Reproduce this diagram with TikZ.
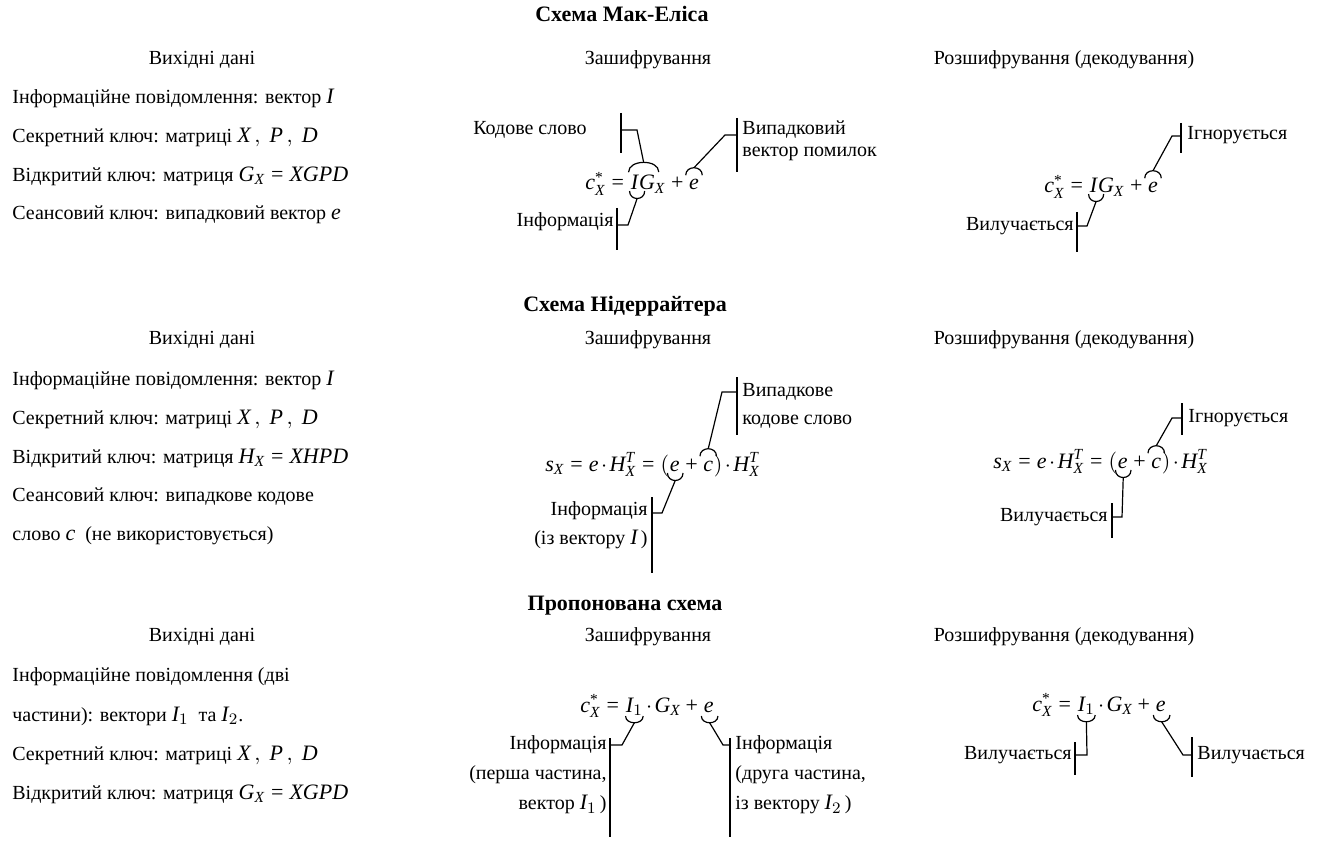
\documentclass[tikz,border=0pt]{standalone}
\usepackage{amsmath}
\usepackage{fontspec}
\setmainfont{Liberation Serif}
\usetikzlibrary{calc}
\newcommand{\vi}[1]{\text{\itshape #1}}
\newcommand{\myeq}{\mathrel{\text{=}}}
\newcommand{\mypl}{\mathbin{\text{+}}}
\newcommand{\myst}{^{\text{*}}}
\newcommand{\mydot}{\mskip2mu{\cdot}\mskip2mu}
\newcommand{\M}[1]{{\fontsize{11pt}{13pt}\selectfont$#1$}}
\begin{document}
\begin{tikzpicture}[x=0.5pt,y=-0.5pt,
  every node/.style={inner sep=0pt, font=\fontsize{10pt}{12pt}\selectfont},
  ttl/.style={font=\fontsize{11pt}{13pt}\selectfont\bfseries},
  ln/.style={anchor=west},
  fm/.style={anchor=base west, font=\fontsize{11pt}{13pt}\selectfont},
  cn/.style={line width=0.6pt},
  barln/.style={line width=0.8pt}]
\useasboundingbox (0,0) rectangle (1325,844);

% ================= Section 1 =================
\node[ttl] (t1) at (622,14) {Схема Мак-Еліса};
\node (h1a) at (202,60) {Вихідні дані};
\node (h1b) at (648,60) {Зашифрування};
\node (h1c) at (1064,60) {Розшифрування (декодування)};
\node[ln] (l1a) at (12,98) {Інформаційне повідомлення: вектор \M{\vi{I}}};
\node[ln] (l1b) at (12,137) {Секретний ключ: матриці \M{\vi{X}\,,\ \vi{P}\,,\ \vi{D}}};
\node[ln] (l1c) at (12,176) {Відкритий ключ: матриця \M{\vi{G}_{\vi{X}} \myeq \vi{XGPD}}};
\node[ln] (l1d) at (12,215) {Сеансовий ключ: випадковий вектор \M{\vi{e}}};

% encryption formula
\node[fm] (ma1) at (585,190) {$\vi{c}\myst_{\vi{X}}\myeq{}$};
\node[fm] (ma2) at (ma1.base east) {$\vi{I}$};
\node[fm] (ma3) at (ma2.base east) {$\vi{G}_{\vi{X}}$};
\node[fm] (ma4) at (ma3.base east) {${}\mypl{}$};
\node[fm] (ma5) at (ma4.base east) {$\vi{e}$};
% arc over IG
\coordinate (ma-p1) at ($(ma2.north west)+(-2,-3)$);
\coordinate (ma-p2) at ($(ma3.north east)+(-7,-3)$);
\draw[cn] (ma-p1) .. controls +(0,-13) and +(0,-13) .. (ma-p2);
\coordinate (ma-q1) at ($(ma-p1)!0.5!(ma-p2)+(0,-9.75)$);
\coordinate (ma-k1) at (637,130);
\coordinate (ma-b1) at (621,130);
\draw[cn] (ma-q1) -- (ma-k1) -- (ma-b1);
\draw[barln] ($(ma-b1)+(0,-17)$) -- ($(ma-b1)+(0,23)$);
\node[anchor=east] (ma-l1) at (587,130) {Кодове слово};
% arc over e
\coordinate (ma-p3) at ($(ma5.north west)+(-3,-4)$);
\coordinate (ma-p4) at ($(ma5.north east)+(3,-4)$);
\draw[cn] (ma-p3) .. controls +(0,-10) and +(0,-10) .. (ma-p4);
\coordinate (ma-q2) at ($(ma-p3)!0.5!(ma-p4)+(0,-7.5)$);
\coordinate (ma-k2) at (725,135);
\coordinate (ma-b2) at (737,135);
\draw[cn] (ma-q2) -- (ma-k2) -- (ma-b2);
\draw[barln] ($(ma-b2)+(0,-17)$) -- ($(ma-b2)+(0,37)$);
\node[anchor=west, align=left, font=\fontsize{10pt}{11pt}\selectfont] (ma-l2) at (742,141) {Випадковий\\вектор помилок};
% arc under I
\coordinate (ma-p5) at ($(ma2.base west)+(-1,1)$);
\coordinate (ma-p6) at ($(ma2.base east)+(6,1)$);
\draw[cn] (ma-p5) .. controls +(0,10) and +(0,10) .. (ma-p6);
\coordinate (ma-q3) at ($(ma-p5)!0.5!(ma-p6)+(0,7.5)$);
\coordinate (ma-k3) at (628,225);
\coordinate (ma-b3) at (617,225);
\draw[cn] (ma-q3) -- (ma-k3) -- (ma-b3);
\draw[barln] ($(ma-b3)+(0,-17)$) -- ($(ma-b3)+(0,25)$);
\node[anchor=east] (ma-l3) at (614,222) {Інформація};

% decryption formula
\node[fm] (mb1) at (1044,193) {$\vi{c}\myst_{\vi{X}}\myeq{}$};
\node[fm] (mb2) at (mb1.base east) {$\vi{I}$};
\node[fm] (mb3) at (mb2.base east) {$\vi{G}_{\vi{X}}$};
\node[fm] (mb4) at (mb3.base east) {${}\mypl{}$};
\node[fm] (mb5) at (mb4.base east) {$\vi{e}$};
\coordinate (mb-p3) at ($(mb5.north west)+(-3,-4)$);
\coordinate (mb-p4) at ($(mb5.north east)+(3,-4)$);
\draw[cn] (mb-p3) .. controls +(0,-10) and +(0,-10) .. (mb-p4);
\coordinate (mb-q2) at ($(mb-p3)!0.5!(mb-p4)+(0,-7.5)$);
\coordinate (mb-k2) at (1172,136);
\coordinate (mb-b2) at (1181,136);
\draw[cn] (mb-q2) -- (mb-k2) -- (mb-b2);
\draw[barln] ($(mb-b2)+(0,-13)$) -- ($(mb-b2)+(0,17)$);
\node[anchor=west] (mb-l2) at (1187,135) {Ігнорується};
\coordinate (mb-p5) at ($(mb2.base west)+(-1,1)$);
\coordinate (mb-p6) at ($(mb2.base east)+(6,1)$);
\draw[cn] (mb-p5) .. controls +(0,10) and +(0,10) .. (mb-p6);
\coordinate (mb-q3) at ($(mb-p5)!0.5!(mb-p6)+(0,7.5)$);
\coordinate (mb-k3) at (1087,226);
\coordinate (mb-b3) at (1077,226);
\draw[cn] (mb-q3) -- (mb-k3) -- (mb-b3);
\draw[barln] ($(mb-b3)+(0,-14)$) -- ($(mb-b3)+(0,26)$);
\node[anchor=east] (mb-l3) at (1074,226) {Вилучається};

% ================= Section 2 =================
\node[ttl] (t2) at (625,306) {Схема Нідеррайтера};
\node (h2a) at (202,340) {Вихідні дані};
\node (h2b) at (648,340) {Зашифрування};
\node (h2c) at (1064,340) {Розшифрування (декодування)};
\node[ln] (l2a) at (12,380) {Інформаційне повідомлення: вектор \M{\vi{I}}};
\node[ln] (l2b) at (12,419) {Секретний ключ: матриці \M{\vi{X}\,,\ \vi{P}\,,\ \vi{D}}};
\node[ln] (l2c) at (12,458) {Відкритий ключ: матриця \M{\vi{H}_{\vi{X}} \myeq \vi{XHPD}}};
\node[ln] (l2d) at (12,497) {Сеансовий ключ: випадкове кодове};
\node[ln] (l2e) at (12,536) {слово \M{\vi{c}} \ (не використовується)};

\node[fm] (na1) at (545,471) {$\vi{s}_{\vi{X}}\myeq\vi{e}\mydot\vi{H}^{\vi{T}}_{\vi{X}}\myeq($};
\node[fm] (na2) at (na1.base east) {$\vi{e}$};
\node[fm] (na3) at (na2.base east) {${}\mypl{}$};
\node[fm] (na4) at (na3.base east) {$\vi{c}$};
\node[fm] (na5) at (na4.base east) {$)\mydot\vi{H}^{\vi{T}}_{\vi{X}}$};
\coordinate (na-p1) at ($(na4.north west)+(-3,-4)$);
\coordinate (na-p2) at ($(na4.north east)+(3,-4)$);
\draw[cn] (na-p1) .. controls +(0,-10) and +(0,-10) .. (na-p2);
\coordinate (na-q1) at ($(na-p1)!0.5!(na-p2)+(0,-7.5)$);
\coordinate (na-k1) at (722,392);
\coordinate (na-b1) at (737,392);
\draw[cn] (na-q1) -- (na-k1) -- (na-b1);
\draw[barln] ($(na-b1)+(0,-15)$) -- ($(na-b1)+(0,43)$);
\node[anchor=west, align=left, font=\fontsize{10pt}{14pt}\selectfont] (na-l1) at (742,406) {Випадкове\\кодове слово};
\coordinate (na-p3) at ($(na2.base west)+(-2,2)$);
\coordinate (na-p4) at ($(na2.base east)+(3,2)$);
\draw[cn] (na-p3) .. controls +(0,10) and +(0,10) .. (na-p4);
\coordinate (na-q2) at ($(na-p3)!0.5!(na-p4)+(0,7.5)$);
\coordinate (na-k2) at (662,513);
\coordinate (na-b2) at (652,513);
\draw[cn] (na-q2) -- (na-k2) -- (na-b2);
\draw[barln] ($(na-b2)+(0,-16)$) -- ($(na-b2)+(0,60)$);
\node[anchor=east, align=right, font=\fontsize{10pt}{14.5pt}\selectfont] (na-l2) at (648,525) {Інформація\\(із вектору \M{\vi{I}}\,)};

\node[fm] (nb1) at (993,468) {$\vi{s}_{\vi{X}}\myeq\vi{e}\mydot\vi{H}^{\vi{T}}_{\vi{X}}\myeq($};
\node[fm] (nb2) at (nb1.base east) {$\vi{e}$};
\node[fm] (nb3) at (nb2.base east) {${}\mypl{}$};
\node[fm] (nb4) at (nb3.base east) {$\vi{c}$};
\node[fm] (nb5) at (nb4.base east) {$)\mydot\vi{H}^{\vi{T}}_{\vi{X}}$};
\coordinate (nb-p1) at ($(nb4.north west)+(-3,-4)$);
\coordinate (nb-p2) at ($(nb4.north east)+(3,-4)$);
\draw[cn] (nb-p1) .. controls +(0,-10) and +(0,-10) .. (nb-p2);
\coordinate (nb-q1) at ($(nb-p1)!0.5!(nb-p2)+(0,-7.5)$);
\coordinate (nb-k1) at (1172,418);
\coordinate (nb-b1) at (1182,418);
\draw[cn] (nb-q1) -- (nb-k1) -- (nb-b1);
\draw[barln] ($(nb-b1)+(0,-15)$) -- ($(nb-b1)+(0,17)$);
\node[anchor=west] (nb-l1) at (1188,418) {Ігнорується};
\coordinate (nb-p3) at ($(nb2.base west)+(-2,2)$);
\coordinate (nb-p4) at ($(nb2.base east)+(3,2)$);
\draw[cn] (nb-p3) .. controls +(0,10) and +(0,10) .. (nb-p4);
\coordinate (nb-q2) at ($(nb-p3)!0.5!(nb-p4)+(0,7.5)$);
\coordinate (nb-k2) at (1122,517);
\coordinate (nb-b2) at (1112,517);
\draw[cn] (nb-q2) -- (nb-k2) -- (nb-b2);
\draw[barln] ($(nb-b2)+(0,-14)$) -- ($(nb-b2)+(0,21)$);
\node[anchor=east] (nb-l2) at (1108,517) {Вилучається};

% ================= Section 3 =================
\node[ttl] (t3) at (625,606) {Пропонована схема};
\node (h3a) at (202,637) {Вихідні дані};
\node (h3b) at (648,637) {Зашифрування};
\node (h3c) at (1064,637) {Розшифрування (декодування)};
\node[ln] (l3a) at (12,677) {Інформаційне повідомлення (дві};
\node[ln] (l3b) at (12,716) {частини): вектори \M{\vi{I}_{1}} \ та \M{\vi{I}_{2}}.};
\node[ln] (l3c) at (12,755) {Секретний ключ: матриці \M{\vi{X}\,,\ \vi{P}\,,\ \vi{D}}};
\node[ln] (l3d) at (12,794) {Відкритий ключ: матриця \M{\vi{G}_{\vi{X}} \myeq \vi{XGPD}}};

\node[fm] (pa1) at (580,712) {$\vi{c}\myst_{\vi{X}}\myeq{}$};
\node[fm] (pa2) at (pa1.base east) {$\vi{I}_{1}$};
\node[fm] (pa3) at (pa2.base east) {${}\mydot\vi{G}_{\vi{X}}\mypl{}$};
\node[fm] (pa4) at (pa3.base east) {$\vi{e}$};
\coordinate (pa-p1) at ($(pa2.base west)+(0,4)$);
\coordinate (pa-p2) at ($(pa2.base east)+(0,4)$);
\draw[cn] (pa-p1) .. controls +(0,9) and +(0,9) .. (pa-p2);
\coordinate (pa-q1) at ($(pa-p1)!0.5!(pa-p2)+(0,6.75)$);
\coordinate (pa-k1) at (622,745);
\coordinate (pa-b1) at (610,745);
\draw[cn] (pa-q1) -- (pa-k1) -- (pa-b1);
\draw[barln] ($(pa-b1)+(0,-7)$) -- ($(pa-b1)+(0,92)$);
\node[anchor=east, align=right, font=\fontsize{10pt}{15pt}\selectfont] (pa-l1) at (607,775) {Інформація\\(перша частина,\\вектор \M{\vi{I}_{1}}\,)};
\coordinate (pa-p3) at ($(pa4.base west)+(-2,4)$);
\coordinate (pa-p4) at ($(pa4.base east)+(4,4)$);
\draw[cn] (pa-p3) .. controls +(0,9) and +(0,9) .. (pa-p4);
\coordinate (pa-q2) at ($(pa-p3)!0.5!(pa-p4)+(0,6.75)$);
\coordinate (pa-k2) at (723,745);
\coordinate (pa-b2) at (730,745);
\draw[cn] (pa-q2) -- (pa-k2) -- (pa-b2);
\draw[barln] ($(pa-b2)+(0,-7)$) -- ($(pa-b2)+(0,92)$);
\node[anchor=west, align=left, font=\fontsize{10pt}{15pt}\selectfont] (pa-l2) at (735,775) {Інформація\\(друга частина,\\із вектору \M{\vi{I}_{2}}\,)};

\node[fm] (pb1) at (1032,711) {$\vi{c}\myst_{\vi{X}}\myeq{}$};
\node[fm] (pb2) at (pb1.base east) {$\vi{I}_{1}$};
\node[fm] (pb3) at (pb2.base east) {${}\mydot\vi{G}_{\vi{X}}\mypl{}$};
\node[fm] (pb4) at (pb3.base east) {$\vi{e}$};
\coordinate (pb-p1) at ($(pb2.base west)+(0,4)$);
\coordinate (pb-p2) at ($(pb2.base east)+(0,4)$);
\draw[cn] (pb-p1) .. controls +(0,9) and +(0,9) .. (pb-p2);
\coordinate (pb-q1) at ($(pb-p1)!0.5!(pb-p2)+(0,6.75)$);
\coordinate (pb-k1) at (1087,755);
\coordinate (pb-b1) at (1075,755);
\draw[cn] (pb-q1) -- (pb-k1) -- (pb-b1);
\draw[barln] ($(pb-b1)+(0,-13)$) -- ($(pb-b1)+(0,20)$);
\node[anchor=east] (pb-l1) at (1072,755) {Вилучається};
\coordinate (pb-p3) at ($(pb4.base west)+(-2,4)$);
\coordinate (pb-p4) at ($(pb4.base east)+(4,4)$);
\draw[cn] (pb-p3) .. controls +(0,9) and +(0,9) .. (pb-p4);
\coordinate (pb-q2) at ($(pb-p3)!0.5!(pb-p4)+(0,6.75)$);
\coordinate (pb-k2) at (1183,755);
\coordinate (pb-b2) at (1192,755);
\draw[cn] (pb-q2) -- (pb-k2) -- (pb-b2);
\draw[barln] ($(pb-b2)+(0,-18)$) -- ($(pb-b2)+(0,22)$);
\node[anchor=west] (pb-l2) at (1197,755) {Вилучається};
\end{tikzpicture}
\end{document}
